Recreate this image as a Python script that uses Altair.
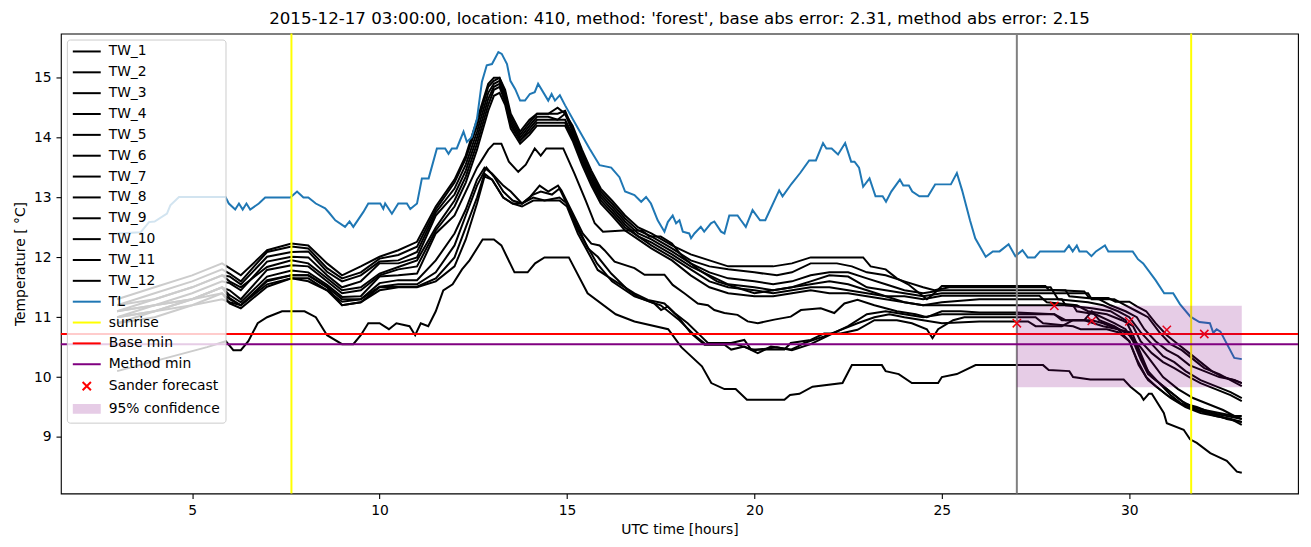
import altair as alt
import pandas as pd

TITLE = "2015-12-17 03:00:00, location: 410, method: 'forest', base abs error: 2.31, method abs error: 2.15"

TW_1 = [(3.0,11.3),(4.0,11.5),(5.0,11.7),(5.8,11.9),(6.0,11.82),(6.3,11.7),(7.0,12.12),(7.65,12.23),(8.1,12.2),(8.6,11.9),(9.0,11.7),(9.5,11.85),(10.0,12.01),(10.5,12.12),(11.0,12.26),(11.5,12.85),(12.0,13.3),(12.3,13.7),(12.6,14.3),(12.9,14.9),(13.05,15.0),(13.2,15.0),(13.35,14.8),(13.5,14.4),(13.75,14.1),(14.0,14.3),(14.2,14.4),(14.5,14.4),(14.75,14.5),(14.95,14.4),(15.15,14.2),(15.4,13.8),(15.65,13.45),(15.9,13.15),(16.2,12.95),(16.55,12.7),(16.9,12.5),(17.25,12.4),(17.8,12.2),(18.3,12.05),(18.8,11.95),(19.3,11.85),(20.0,11.85),(20.5,11.85),(21.0,11.9),(21.5,12.0),(22.0,12.0),(22.5,12.0),(22.9,12.0),(23.1,11.85),(23.5,11.8),(23.8,11.65),(24.1,11.55),(24.4,11.4),(24.6,11.3),(24.8,11.4),(25.0,11.52),(27.0,11.52),(27.76,11.52),(27.85,11.46),(28.8,11.43),(28.93,11.32),(29.44,11.32),(29.63,11.26),(30.0,11.26),(30.2,11.18),(30.45,11.1),(30.7,10.9),(31.0,10.7),(31.3,10.55),(31.6,10.4),(31.9,10.25),(32.2,10.1),(32.5,10.0),(32.8,9.95),(33.0,9.9)]
TW_2 = [(3.0,11.2),(4.0,11.4),(5.0,11.6),(5.8,11.8),(6.0,11.73),(6.3,11.6),(7.0,12.09),(7.65,12.18),(8.1,12.15),(8.6,11.82),(9.0,11.65),(9.5,11.75),(10.0,11.98),(10.5,12.04),(11.0,12.18),(11.5,12.8),(12.0,13.25),(12.3,13.65),(12.6,14.2),(12.9,14.85),(13.05,14.95),(13.2,15.0),(13.35,14.75),(13.5,14.35),(13.75,14.05),(14.0,14.25),(14.2,14.4),(14.5,14.4),(14.75,14.4),(14.95,14.45),(15.15,14.15),(15.4,13.75),(15.65,13.4),(15.9,13.1),(16.2,12.9),(16.55,12.65),(16.9,12.45),(17.25,12.35),(17.8,12.15),(18.3,11.95),(18.8,11.85),(19.3,11.8),(20.0,11.75),(20.6,11.7),(21.0,11.75),(21.5,11.9),(22.2,11.9),(22.6,11.85),(23.0,11.75),(23.5,11.7),(24.0,11.6),(24.5,11.5),(24.8,11.45),(25.2,11.5),(27.0,11.5),(27.9,11.5),(28.0,11.4),(28.9,11.4),(29.0,11.3),(29.6,11.3),(29.9,11.2),(30.2,11.1),(30.5,11.0),(30.8,10.75),(31.1,10.55),(31.4,10.45),(31.7,10.3),(32.0,10.15),(32.4,10.05),(32.7,9.95),(33.0,9.85)]
TW_3 = [(3.0,11.1),(4.0,11.3),(5.0,11.5),(5.8,11.7),(6.0,11.68),(6.3,11.55),(7.0,12.01),(7.65,12.09),(8.1,12.1),(8.6,11.76),(9.0,11.6),(9.5,11.7),(10.0,11.93),(10.5,11.95),(11.0,12.09),(11.5,12.75),(12.0,13.15),(12.3,13.55),(12.6,14.1),(12.9,14.75),(13.05,14.9),(13.2,14.95),(13.35,14.7),(13.5,14.3),(13.75,14.0),(14.0,14.2),(14.2,14.35),(14.5,14.35),(14.75,14.3),(14.95,14.4),(15.15,14.1),(15.4,13.7),(15.65,13.35),(15.9,13.05),(16.2,12.85),(16.55,12.6),(16.9,12.4),(17.25,12.3),(17.8,12.1),(18.3,11.9),(18.8,11.75),(19.3,11.65),(20.0,11.6),(20.5,11.55),(21.0,11.6),(21.5,11.7),(22.0,11.75),(22.5,11.75),(23.0,11.65),(23.5,11.55),(24.0,11.45),(24.5,11.4),(25.0,11.45),(27.0,11.45),(28.3,11.45),(28.4,11.35),(29.2,11.3),(29.5,11.2),(29.9,11.1),(30.2,11.0),(30.4,10.8),(30.7,10.6),(31.0,10.45),(31.3,10.35),(31.6,10.2),(32.0,10.1),(32.4,10.0),(32.8,9.95),(33.0,9.9)]
TW_4 = [(3.0,11.0),(4.0,11.2),(5.0,11.4),(5.8,11.6),(6.0,11.57),(6.3,11.45),(7.0,11.93),(7.65,12.01),(8.1,12.0),(8.6,11.7),(9.0,11.5),(9.5,11.6),(10.0,11.9),(10.5,11.9),(11.0,12.0),(11.5,12.7),(12.0,13.05),(12.3,13.45),(12.6,14.0),(12.9,14.65),(13.05,14.85),(13.2,14.9),(13.35,14.65),(13.5,14.25),(13.75,13.95),(14.0,14.15),(14.2,14.3),(14.5,14.3),(14.75,14.3),(14.95,14.3),(15.15,14.05),(15.4,13.65),(15.65,13.3),(15.9,13.0),(16.2,12.8),(16.55,12.55),(16.9,12.35),(17.25,12.25),(17.8,12.05),(18.3,11.85),(18.8,11.7),(19.3,11.55),(20.0,11.5),(20.5,11.45),(21.0,11.5),(21.5,11.6),(22.0,11.7),(22.5,11.68),(23.0,11.5),(23.5,11.45),(24.0,11.4),(24.5,11.35),(25.0,11.4),(27.0,11.4),(28.0,11.4),(28.1,11.3),(28.9,11.25),(29.3,11.2),(29.7,11.1),(30.0,11.0),(30.3,10.75),(30.6,10.55),(30.9,10.35),(31.2,10.25),(31.5,10.1),(31.9,9.95),(32.3,9.85),(32.7,9.75),(33.0,9.65)]
TW_5 = [(3.0,11.2),(4.0,11.3),(5.0,11.5),(5.8,11.7),(6.0,11.6),(6.3,11.5),(7.0,11.84),(7.65,11.95),(8.1,11.9),(8.6,11.65),(9.0,11.45),(9.5,11.5),(10.0,11.73),(10.5,11.84),(11.0,11.95),(11.5,12.5),(12.0,12.95),(12.3,13.35),(12.6,13.9),(12.9,14.55),(13.05,14.8),(13.2,14.85),(13.35,14.6),(13.5,14.2),(13.75,13.95),(14.0,14.1),(14.2,14.25),(14.5,14.25),(14.75,14.25),(14.95,14.25),(15.15,14.0),(15.4,13.6),(15.65,13.25),(15.9,12.95),(16.2,12.75),(16.55,12.5),(16.9,12.35),(17.25,12.2),(17.8,12.0),(18.3,11.8),(18.8,11.6),(19.3,11.5),(20.0,11.45),(20.5,11.4),(21.0,11.45),(21.5,11.5),(22.0,11.5),(22.5,11.45),(23.0,11.4),(23.5,11.35),(24.0,11.35),(24.5,11.3),(25.0,11.36),(27.0,11.36),(27.6,11.36),(27.8,11.25),(28.6,11.2),(28.9,11.1),(29.4,11.05),(29.8,10.95),(30.1,10.85),(30.3,10.6),(30.6,10.4),(30.9,10.25),(31.2,10.15),(31.6,10.0),(31.9,9.9),(32.3,9.8),(32.7,9.7),(33.0,9.6)]
TW_6 = [(3.0,11.1),(4.0,11.2),(5.0,11.3),(5.8,11.5),(6.0,11.45),(6.3,11.3),(7.0,11.79),(7.65,11.87),(8.1,11.85),(8.6,11.6),(9.0,11.4),(9.5,11.45),(10.0,11.7),(10.5,11.8),(11.0,11.85),(11.5,12.45),(12.0,12.85),(12.3,13.25),(12.6,13.8),(12.9,14.45),(13.05,14.7),(13.2,14.75),(13.35,14.55),(13.5,14.15),(13.75,13.9),(14.0,14.05),(14.2,14.2),(14.5,14.2),(14.75,14.2),(14.95,14.2),(15.15,13.95),(15.4,13.55),(15.65,13.2),(15.9,12.9),(16.2,12.7),(16.55,12.45),(16.9,12.3),(17.25,12.15),(17.8,11.95),(18.3,11.7),(18.8,11.5),(19.3,11.4),(20.0,11.35),(20.5,11.35),(21.0,11.4),(21.5,11.45),(22.0,11.4),(22.5,11.4),(23.0,11.35),(23.5,11.3),(24.0,11.25),(24.5,11.2),(25.0,11.25),(26.0,11.3),(27.0,11.3),(28.2,11.3),(28.3,11.2),(29.0,11.15),(29.5,11.1),(29.9,10.95),(30.1,10.7),(30.3,10.4),(30.5,10.1),(30.8,9.9),(31.1,9.75),(31.4,9.6),(31.7,9.5),(32.0,9.45),(32.4,9.4),(32.8,9.35),(33.0,9.3)]
TW_7 = [(3.0,10.9),(4.0,11.1),(5.0,11.3),(5.8,11.5),(6.0,11.37),(6.3,11.25),(7.0,11.68),(7.65,11.78),(8.1,11.75),(8.6,11.54),(9.0,11.34),(9.5,11.35),(10.0,11.68),(10.5,11.7),(11.0,11.73),(11.5,12.4),(12.0,12.7),(12.3,13.1),(12.6,13.5),(12.9,13.8),(13.05,13.9),(13.25,13.9),(13.45,13.6),(13.7,13.43),(13.9,13.55),(14.14,13.82),(14.3,13.7),(14.45,13.82),(14.9,13.82),(15.2,13.4),(15.5,12.95),(15.74,12.57),(15.96,12.43),(16.5,12.45),(17.0,12.45),(17.2,12.35),(17.5,12.35),(17.8,12.23),(18.1,12.0),(18.5,11.8),(19.0,11.6),(19.5,11.5),(20.0,11.4),(20.5,11.45),(21.0,11.5),(21.5,11.55),(22.0,11.6),(22.5,11.55),(23.0,11.45),(23.5,11.35),(24.0,11.25),(24.5,11.2),(25.0,11.2),(27.0,11.2),(28.5,11.2),(28.6,11.1),(29.1,11.05),(29.6,10.9),(29.9,10.8),(30.1,10.6),(30.3,10.3),(30.5,10.05),(30.8,9.9),(31.1,9.7),(31.4,9.55),(31.8,9.45),(32.2,9.4),(32.6,9.3),(33.0,9.25)]
TW_8 = [(3.0,11.0),(4.0,11.1),(5.0,11.3),(5.8,11.5),(6.0,11.32),(6.3,11.2),(7.0,11.62),(7.65,11.7),(8.1,11.7),(8.6,11.51),(9.0,11.3),(9.5,11.3),(10.0,11.57),(10.5,11.62),(11.0,11.62),(11.5,11.95),(12.0,12.4),(12.3,12.8),(12.6,13.3),(12.8,13.5),(13.0,13.4),(13.3,13.2),(13.5,13.1),(13.8,12.9),(14.0,13.0),(14.27,13.2),(14.5,13.1),(14.76,13.2),(14.85,13.12),(15.2,12.68),(15.42,12.4),(15.65,12.23),(15.87,12.2),(16.0,12.12),(16.27,11.93),(16.8,11.82),(17.07,11.71),(17.6,11.71),(17.82,11.54),(18.13,11.4),(18.49,11.23),(18.76,11.2),(18.93,11.12),(19.2,11.07),(19.55,11.04),(19.82,10.93),(20.09,10.9),(20.53,10.96),(20.97,11.01),(21.24,11.12),(21.77,11.15),(22.13,11.07),(22.4,11.23),(22.75,11.29),(23.2,11.2),(23.8,11.1),(24.3,11.05),(24.6,11.0),(25.0,11.1),(25.5,11.1),(26.0,11.08),(27.0,11.08),(28.0,11.05),(28.3,10.95),(29.0,10.95),(29.3,10.9),(29.7,10.8),(30.0,10.75),(30.2,10.5),(30.4,10.2),(30.6,10.0),(30.9,9.85),(31.2,9.7),(31.5,9.55),(31.8,9.5),(32.2,9.4),(32.6,9.35),(33.0,9.3)]
TW_9 = [(3.0,10.9),(4.0,11.0),(5.0,11.2),(5.8,11.4),(6.0,11.23),(6.3,11.15),(7.0,11.51),(7.65,11.65),(8.1,11.65),(8.6,11.45),(9.0,11.26),(9.5,11.3),(10.0,11.51),(10.5,11.55),(11.0,11.55),(11.5,11.75),(12.0,12.2),(12.3,12.7),(12.6,13.2),(12.85,13.5),(13.05,13.35),(13.3,13.1),(13.55,12.95),(13.8,12.9),(14.1,13.05),(14.3,13.1),(14.6,13.05),(14.8,13.15),(15.29,12.51),(15.56,12.15),(15.82,12.01),(16.18,11.73),(16.62,11.46),(16.89,11.34),(17.33,11.23),(17.51,11.12),(17.69,11.18),(17.87,11.07),(18.22,10.9),(18.58,10.68),(18.76,10.57),(19.38,10.57),(19.73,10.62),(19.91,10.46),(20.8,10.46),(20.97,10.57),(21.5,10.62),(21.86,10.73),(22.3,10.73),(22.75,10.79),(23.2,10.95),(23.8,10.95),(24.2,10.9),(24.6,10.8),(24.75,10.65),(24.9,10.8),(25.3,10.95),(25.6,11.0),(27.0,11.0),(27.5,11.0),(27.7,10.9),(28.5,10.85),(28.7,10.8),(29.4,10.8),(29.7,10.75),(30.0,10.6),(30.2,10.3),(30.45,10.0),(30.7,9.85),(31.0,9.7),(31.4,9.55),(31.8,9.45),(32.3,9.35),(32.7,9.3),(33.0,9.2)]
TW_10 = [(3.0,11.1),(4.0,11.2),(5.0,11.3),(5.8,11.4),(6.0,11.3),(6.3,11.2),(7.0,11.6),(7.65,11.7),(8.1,11.7),(8.6,11.5),(9.0,11.2),(9.5,11.25),(10.0,11.5),(10.5,11.51),(11.0,11.51),(11.5,11.65),(12.0,12.0),(12.3,12.5),(12.6,13.0),(12.8,13.4),(13.0,13.3),(13.3,13.0),(13.55,12.9),(13.8,12.85),(14.1,12.95),(14.4,12.95),(14.8,12.95),(15.0,12.85),(15.29,12.4),(15.82,11.79),(16.09,11.68),(16.8,11.4),(17.16,11.29),(17.6,11.23),(17.96,11.01),(18.31,10.73),(18.67,10.54),(19.2,10.54),(19.38,10.46),(19.73,10.51),(20.09,10.4),(20.44,10.51),(20.97,10.46),(21.15,10.51),(21.33,10.57),(21.86,10.68),(22.75,10.9),(23.2,11.0),(23.6,11.05),(24.0,11.0),(24.5,10.95),(25.0,10.9),(26.0,10.93),(27.0,10.93),(27.3,10.93),(27.5,10.85),(28.2,10.85),(28.5,10.95),(28.8,10.95),(29.3,10.85),(29.7,10.8),(30.0,10.6),(30.25,10.2),(30.5,9.95),(30.8,9.8),(31.1,9.65),(31.5,9.5),(31.9,9.4),(32.3,9.35),(32.7,9.3),(33.0,9.25)]
TW_11 = [(3.0,11.0),(4.0,11.1),(5.0,11.2),(5.8,11.3),(6.0,11.25),(6.3,11.2),(7.0,11.55),(7.65,11.65),(8.1,11.6),(8.6,11.45),(9.0,11.2),(9.5,11.25),(10.0,11.45),(10.5,11.5),(11.0,11.5),(11.5,11.6),(12.0,11.85),(12.3,12.3),(12.6,12.9),(12.8,13.35),(13.0,13.3),(13.3,13.0),(13.55,12.9),(13.8,12.9),(14.1,13.0),(14.4,12.95),(14.8,13.0),(15.0,12.9),(15.3,12.45),(15.8,11.9),(16.2,11.6),(16.8,11.35),(17.5,11.2),(18.0,10.95),(18.4,10.7),(18.7,10.55),(19.5,10.55),(20.0,10.45),(20.6,10.5),(21.0,10.45),(21.5,10.55),(22.0,10.7),(22.5,10.85),(23.0,11.05),(23.5,11.1),(24.0,11.05),(24.5,11.0),(25.0,11.05),(27.0,11.05),(28.0,11.05),(28.2,10.95),(28.8,10.95),(29.0,11.1),(29.2,10.95),(29.6,10.85),(30.0,10.7),(30.3,10.5),(30.6,10.25),(30.9,10.0),(31.3,9.8),(31.7,9.65),(32.1,9.55),(32.5,9.45),(32.8,9.35),(33.0,9.35)]
TW_12 = [(3.0,10.1),(3.6,10.2),(4.2,10.3),(4.8,10.4),(5.4,10.5),(5.9,10.6),(6.1,10.45),(6.3,10.45),(6.5,10.6),(6.75,10.9),(7.0,11.0),(7.4,11.1),(8.0,11.1),(8.3,11.0),(8.6,10.7),(9.0,10.55),(9.3,10.55),(9.5,10.7),(9.7,10.9),(10.0,10.9),(10.25,10.8),(10.45,10.9),(10.8,10.85),(10.95,10.7),(11.1,10.9),(11.3,10.85),(11.5,11.1),(11.7,11.45),(11.95,11.55),(12.2,11.8),(12.4,11.95),(12.75,12.3),(13.05,12.3),(13.25,12.2),(13.6,11.75),(13.95,11.75),(14.15,11.9),(14.4,12.0),(15.05,12.0),(15.55,11.4),(16.3,11.05),(16.8,10.93),(17.7,10.8),(18.05,10.5),(18.6,10.18),(18.85,9.9),(19.2,9.8),(19.5,9.8),(19.8,9.62),(20.8,9.62),(20.95,9.7),(21.2,9.72),(21.55,9.84),(22.35,9.9),(22.6,10.2),(23.4,10.2),(23.5,10.1),(23.85,10.05),(24.2,9.9),(24.9,9.9),(25.0,10.0),(25.4,10.05),(25.9,10.2),(27.7,10.2),(27.85,10.12),(28.4,10.1),(28.5,10.0),(28.96,9.96),(29.85,9.96),(30.03,9.84),(30.3,9.7),(30.38,9.62),(30.52,9.72),(30.6,9.72),(30.92,9.4),(31.0,9.23),(31.45,9.12),(31.62,8.96),(31.8,8.9),(32.16,8.73),(32.33,8.68),(32.6,8.6),(32.87,8.42),(33.0,8.4)]
TL = [(3.0,12.4),(3.63,12.42),(3.85,12.59),(4.0,12.6),(4.33,12.73),(4.42,12.87),(4.65,13.01),(5.89,13.01),(5.98,12.9),(6.15,12.8),(6.25,12.9),(6.35,12.8),(6.45,12.9),(6.55,12.8),(6.78,12.9),(6.95,13.0),(7.62,13.0),(7.8,13.1),(7.97,13.0),(8.1,13.0),(8.3,12.9),(8.55,12.82),(8.65,12.75),(8.82,12.62),(9.08,12.51),(9.2,12.6),(9.3,12.51),(9.57,12.76),(9.7,12.9),(10.02,12.9),(10.1,12.81),(10.15,12.9),(10.33,12.73),(10.5,12.9),(10.73,12.9),(10.82,12.81),(11.0,12.9),(11.13,13.32),(11.31,13.32),(11.53,13.82),(11.75,13.82),(11.84,13.73),(11.93,13.82),(12.06,13.82),(12.24,14.1),(12.33,13.93),(12.46,14.01),(12.6,14.32),(12.73,14.93),(12.86,15.21),(13.0,15.23),(13.17,15.43),(13.26,15.4),(13.4,15.23),(13.49,14.95),(13.62,14.81),(13.75,14.62),(13.88,14.62),(14.01,14.73),(14.14,14.76),(14.23,14.9),(14.5,14.62),(14.59,14.73),(14.68,14.62),(14.81,14.71),(14.95,14.54),(15.3,14.15),(15.6,13.82),(15.87,13.54),(16.18,13.5),(16.4,13.34),(16.55,13.1),(16.8,13.04),(16.98,12.93),(17.11,13.01),(17.24,12.9),(17.42,12.62),(17.6,12.43),(17.69,12.59),(17.82,12.7),(17.91,12.57),(18.0,12.62),(18.09,12.43),(18.26,12.4),(18.31,12.32),(18.4,12.4),(18.57,12.51),(18.66,12.43),(18.84,12.57),(18.93,12.6),(19.11,12.43),(19.2,12.4),(19.33,12.7),(19.55,12.7),(19.64,12.62),(19.77,12.51),(19.95,12.79),(20.15,12.62),(20.29,12.62),(20.66,13.12),(20.75,13.02),(20.99,13.23),(21.22,13.41),(21.46,13.62),(21.64,13.62),(21.83,13.91),(21.92,13.82),(22.06,13.82),(22.23,13.72),(22.42,13.91),(22.58,13.6),(22.67,13.6),(22.79,13.5),(22.9,13.18),(23.07,13.32),(23.23,13.02),(23.42,13.02),(23.51,12.93),(23.65,13.1),(23.88,13.3),(23.97,13.2),(24.12,13.2),(24.21,13.1),(24.4,13.02),(24.63,13.02),(24.82,13.22),(25.24,13.22),(25.4,13.41),(25.54,13.12),(25.75,12.62),(25.89,12.32),(26.17,12.01),(26.36,12.1),(26.54,12.1),(26.78,12.22),(26.96,12.02),(27.15,12.12),(27.29,12.0),(27.48,12.0),(27.62,12.1),(28.27,12.1),(28.39,12.2),(28.49,12.1),(28.6,12.2),(28.67,12.1),(28.86,12.1),(28.99,12.02),(29.11,12.1),(29.35,12.2),(29.44,12.1),(30.09,12.1),(30.23,11.97),(30.37,11.9),(30.7,11.62),(30.93,11.4),(31.17,11.4),(31.35,11.22),(31.63,11.01),(31.87,10.92),(32.15,10.9),(32.24,10.74),(32.33,10.8),(32.43,10.76),(32.8,10.32),(33.0,10.3)]

SUNRISE_X = [7.65, 31.65]
NOW_X = [27.0]
BASE_MIN = 10.72
METHOD_MIN = 10.55
SANDER_X = [27.0, 28.0, 29.0, 30.0, 31.0, 32.0]
SANDER_Y = [10.9, 11.19, 10.94, 10.93, 10.79, 10.72]
CONF_X = [27.0, 33.0]
CONF_Y = [9.83, 11.19]

TW_NAMES = ["TW_%d" % i for i in range(1, 13)]
TW_DATA = [TW_1, TW_2, TW_3, TW_4, TW_5, TW_6, TW_7, TW_8, TW_9, TW_10, TW_11, TW_12]
LEGEND_NAMES = TW_NAMES + ["TL", "sunrise", "Base min", "Method min", "Sander forecast", "95% confidence"]
LEGEND_COLORS = ["#000000"] * 12 + ["#1f77b4", "#ffff00", "#ff0000", "#800080", "#ff0000", "#e6cce6"]

LINE_SYM = "M-3.37,0H3.37"
X_SYM = "M-1,-1L1,1M-1,1L1,-1"
PATCH_SYM = ("M-3.37,-0.93H3.37M-3.37,-0.47H3.37M-3.37,0H3.37"
             "M-3.37,0.47H3.37M-3.37,0.93H3.37")
LEGEND_SHAPES = [LINE_SYM] * 16 + [X_SYM, PATCH_SYM]

FONT = "DejaVu Sans"


def frame(name, pts):
    return pd.DataFrame({
        "series": name,
        "i": list(range(len(pts))),
        "x": [p[0] for p in pts],
        "y": [p[1] for p in pts],
    })


tw_df = pd.concat([frame(n, d) for n, d in zip(TW_NAMES, TW_DATA)], ignore_index=True)
tl_df = frame("TL", TL)

XS = alt.Scale(domain=[1.5, 34.5], nice=False, zero=False)
YS = alt.Scale(domain=[8.055, 15.74], nice=False, zero=False)
X_AXIS = alt.Axis(values=[5, 10, 15, 20, 25, 30], title="UTC time [hours]", format="d")
Y_AXIS = alt.Axis(values=[9, 10, 11, 12, 13, 14, 15], title="Temperature [ °C]", format="d")


def X(field="x"):
    return alt.X(field + ":Q", scale=XS, axis=X_AXIS, title="UTC time [hours]")


def Y(field="y"):
    return alt.Y(field + ":Q", scale=YS, axis=Y_AXIS, title="Temperature [ °C]")


tw = alt.Chart(tw_df).mark_line(color="black", strokeWidth=2).encode(
    x=X(), y=Y(), detail="series:N", order="i:Q")
tl = alt.Chart(tl_df).mark_line(color="#1f77b4", strokeWidth=2).encode(
    x=X(), y=Y(), order="i:Q")
sun = alt.Chart(pd.DataFrame({"x": SUNRISE_X})).mark_rule(color="#ffff00", strokeWidth=2).encode(x=X())
now = alt.Chart(pd.DataFrame({"x": NOW_X})).mark_rule(color="#808080", strokeWidth=2).encode(x=X())
base = alt.Chart(pd.DataFrame({"y": [BASE_MIN]})).mark_rule(color="#ff0000", strokeWidth=2).encode(y=Y())
meth = alt.Chart(pd.DataFrame({"y": [METHOD_MIN]})).mark_rule(color="#800080", strokeWidth=2).encode(y=Y())

sander_df = pd.DataFrame({"x": SANDER_X, "y": SANDER_Y, "series": "Sander forecast"})
LEG = alt.Legend(
    title=None, orient="top-left", offset=6, padding=5,
    fillColor="rgba(255,255,255,0.8)", strokeColor="#cccccc", cornerRadius=3,
    labelFont=FONT, labelFontSize=13.9, labelColor="black",
    symbolSize=69, symbolStrokeWidth=2, symbolOpacity=1, rowPadding=5.9, labelOffset=15,
    symbolOffset=8, symbolLimit=40, zindex=5,
)
sander = alt.Chart(sander_df).mark_point(filled=False, size=69, strokeWidth=1.5, opacity=1).encode(
    x=X(), y=Y(),
    color=alt.Color("series:N", scale=alt.Scale(domain=LEGEND_NAMES, range=LEGEND_COLORS), legend=LEG),
    shape=alt.Shape("series:N", scale=alt.Scale(domain=LEGEND_NAMES, range=LEGEND_SHAPES), legend=LEG),
)

conf_df = pd.DataFrame({"x": [CONF_X[0]], "x2": [CONF_X[1]], "y": [CONF_Y[0]], "y2": [CONF_Y[1]]})
conf = alt.Chart(conf_df).mark_rect(color="#800080", opacity=0.2).encode(
    x=X(), x2="x2:Q", y=Y(), y2="y2:Q")

chart = alt.layer(tw, tl, sun, now, base, meth, sander, conf).properties(
    width=1240, height=461,
    autosize=alt.AutoSizeParams(type="none"),
    padding={"left": 53, "top": 25, "right": 5, "bottom": 45},
    title=alt.TitleParams(TITLE, font=FONT, fontSize=16.7, fontWeight="normal", color="black",
                          anchor="middle", frame="group", offset=5),
).configure_view(stroke="black", strokeWidth=1.1).configure_axis(
    domain=False, grid=False,
    tickColor="black", tickSize=4.9, tickWidth=1.1,
    labelFont=FONT, labelFontSize=13.9, labelColor="black", labelPadding=4.9,
    titleFont=FONT, titleFontSize=13.9, titleFontWeight="normal", titleColor="black", titlePadding=5.6,
)

chart.save("out.html", embed_options={"renderer": "svg", "actions": False})
